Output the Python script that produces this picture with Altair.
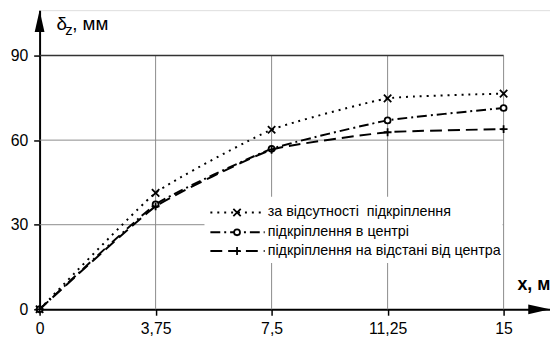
import altair as alt
import pandas as pd

# ---- data ----
x_vals = [0, 3.75, 7.5, 11.25, 15]
series_names = [
    "за відсутності \u00a0підкріплення",
    "підкріплення в центрі",
    "підкріплення на відстані від центра",
]
s_none = [0, 41.3, 63.7, 74.8, 76.5]
s_center = [0, 37.2, 56.9, 67.0, 71.4]
s_dist = [0, 36.5, 56.6, 62.8, 63.9]
series_values = [s_none, s_center, s_dist]

x_ticks = [0, 3.75, 7.5, 11.25, 15]
y_ticks = [0, 30, 60, 90]

X_MAX = 16.5
Y_MAX = 106.1
W, H = 517, 303

FONT = "Liberation Sans"

dashes = [[2, 5], [10, 4, 2, 4], [12, 6]]
shapes = ["M-1,-1L1,1M1,-1L-1,1", "circle", "M-1,0L1,0M0,-1L0,1"]
sizes = [56, 36, 64]
fills = [False, True, False]

xs = alt.Scale(domain=[0, X_MAX], nice=False, zero=False)
ys = alt.Scale(domain=[0, Y_MAX], nice=False, zero=False)


def X(field):
    return alt.X(field, type="quantitative", scale=xs, title=None,
                 axis=alt.Axis(values=x_ticks, format=".2~f",
                               labelExpr="replace(datum.label, '.', ',')",
                               grid=False, domainColor="black", domainWidth=2,
                               tickColor="black", tickWidth=1.5, tickSize=6,
                               labelFont=FONT, labelFontSize=16, labelColor="black",
                               labelPadding=6, labelFlush=False))


def Y(field):
    return alt.Y(field, type="quantitative", scale=ys, title=None,
                 axis=alt.Axis(values=y_ticks, format="d",
                               grid=False, domainColor="black", domainWidth=2,
                               tickColor="black", tickWidth=1.5, tickSize=6,
                               labelFont=FONT, labelFontSize=16, labelColor="black",
                               labelPadding=6, labelFlush=False))


rows = []
for name, vals in zip(series_names, series_values):
    for xv, yv in zip(x_vals, vals):
        rows.append({"series": name, "x": xv, "y": yv})
df = pd.DataFrame(rows)

layers = []

# grid lines (vertical up to 90, horizontal up to 15)
gx = pd.DataFrame({"x": x_ticks[1:], "y0": 0, "y1": y_ticks[-1]})
layers.append(alt.Chart(gx).mark_rule(color="#8a8a8a", strokeWidth=1).encode(
    x=X("x"), y=Y("y0"), y2="y1"))
gy = pd.DataFrame({"y": y_ticks[1:-1], "x0": 0, "x1": x_ticks[-1]})
layers.append(alt.Chart(gy).mark_rule(color="#8a8a8a", strokeWidth=1).encode(
    y=Y("y"), x=X("x0"), x2="x1"))
gtop = pd.DataFrame({"y": [y_ticks[-1]], "x0": 0, "x1": x_ticks[-1]})
layers.append(alt.Chart(gtop).mark_rule(color="#333333", strokeWidth=1.5).encode(
    y=Y("y"), x=X("x0"), x2="x1"))

# legend background
layers.append(alt.Chart(pd.DataFrame({"a": [0]})).mark_rect(color="white").encode(
    x=alt.value(167), x2=alt.value(469), y=alt.value(189), y2=alt.value(256)))


def point_props(i):
    p = dict(shape=shapes[i], size=sizes[i], filled=False, stroke="black",
             strokeWidth=1.8, opacity=1)
    if fills[i]:
        p["fill"] = "white"
    return p


# series lines + markers
for i, name in enumerate(series_names):
    sub = df[df["series"] == name]
    layers.append(alt.Chart(sub).mark_line(
        color="black", strokeWidth=2, strokeDash=dashes[i],
        interpolate="cardinal", tension=0.6).encode(x=X("x"), y=Y("y")))
    layers.append(alt.Chart(sub).mark_point(**point_props(i)).encode(x=X("x"), y=Y("y")))

# legend entries
leg_y = [205, 225, 244]
for i, name in enumerate(series_names):
    ld = pd.DataFrame({"series": [name]})
    layers.append(alt.Chart(ld).mark_rule(color="black", strokeWidth=2, strokeDash=dashes[i]).encode(
        x=alt.value(173), x2=alt.value(228), y=alt.value(leg_y[i])))
    layers.append(alt.Chart(ld).mark_point(**point_props(i)).encode(
        x=alt.value(200), y=alt.value(leg_y[i])))
    layers.append(alt.Chart(ld).mark_text(
        align="left", baseline="middle", font=FONT, fontSize=14.5, color="black").encode(
        x=alt.value(231), y=alt.value(leg_y[i]), text="series:N"))

# axis arrows
layers.append(alt.Chart(pd.DataFrame({"x": [0], "y": [Y_MAX]})).mark_point(
    shape="M0,-1L0.45,1L-0.45,1Z", size=484, filled=True, color="black", opacity=1, yOffset=11).encode(
    x=X("x"), y=Y("y")))
layers.append(alt.Chart(pd.DataFrame({"x": [X_MAX], "y": [0]})).mark_point(
    shape="M1,0L-1,-0.45L-1,0.45Z", size=484, filled=True, color="black", opacity=1, xOffset=-11).encode(
    x=X("x"), y=Y("y")))

# axis titles
t = pd.DataFrame({"a": [0]})
layers.append(alt.Chart(t).mark_text(align="left", baseline="alphabetic", font=FONT,
                                     fontSize=19, color="black", text="δ").encode(
    x=alt.value(17), y=alt.value(20)))
layers.append(alt.Chart(t).mark_text(align="left", baseline="alphabetic", font=FONT,
                                     fontSize=15, color="black", text="z").encode(
    x=alt.value(26), y=alt.value(25)))
layers.append(alt.Chart(t).mark_text(align="left", baseline="alphabetic", font=FONT,
                                     fontSize=19, color="black", text=", мм").encode(
    x=alt.value(33), y=alt.value(20)))
layers.append(alt.Chart(t).mark_text(align="left", baseline="alphabetic", font=FONT,
                                     fontSize=18, fontWeight="bold", color="black", text="x, м").encode(
    x=alt.value(484), y=alt.value(283)))

chart = alt.layer(*layers).properties(
    width=W, height=H,
    autosize=alt.AutoSizeParams(type="none"),
    padding={"left": 32, "top": 0, "right": 0, "bottom": 36},
).configure_view(stroke=None).configure(background="white")

chart.save("out.html", embed_options={"renderer": "svg", "actions": False})
